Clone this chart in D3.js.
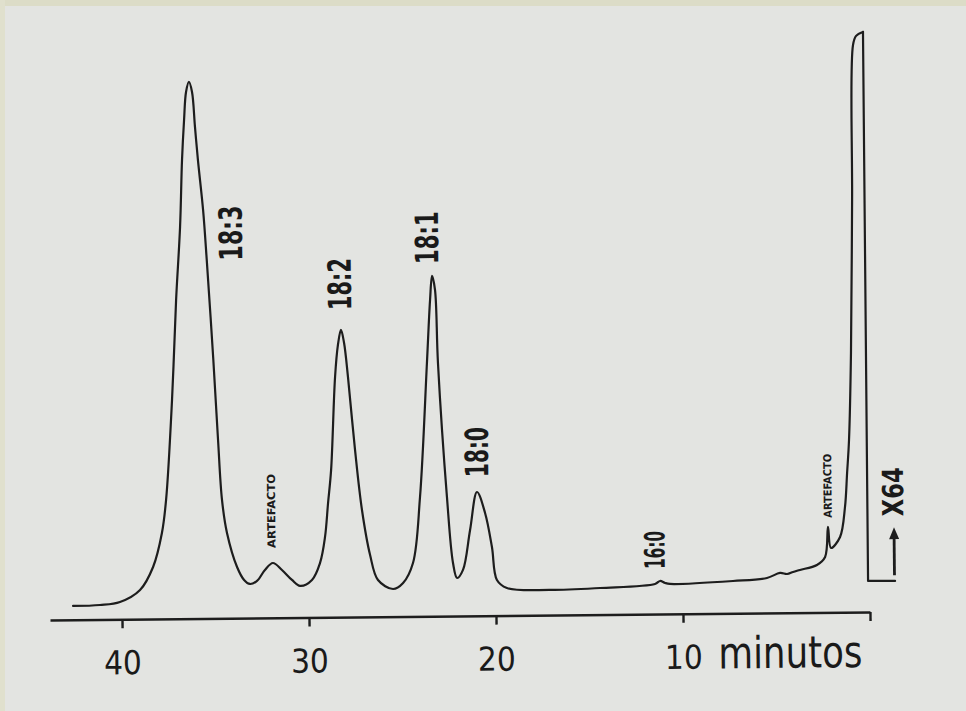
<!DOCTYPE html>
<html>
<head>
<meta charset="UTF-8"/>
<script src="https://d3js.org/d3.v7.min.js"></script>
<title>Cromatograma</title>
<style>
body{margin:0;background:#e3e4e1;}
svg{display:block;}
.trace{fill:none;stroke:#1d1d1d;stroke-width:2.2;stroke-linejoin:round;stroke-linecap:round;}
.axis path,.axis line{stroke:#1d1d1d;stroke-width:2.4;}
.lbl{font-family:'Liberation Sans Narrow','DejaVu Sans Condensed',sans-serif;fill:#1a1a1a;}
</style>
</head>
<body>
<svg id="chart" width="966" height="711"></svg>
<script>
'use strict';

// retention time (min) and detector response (relative units)
var tiempo = [42.61,41.17,40.10,39.02,38.31,37.82,37.58,37.21,36.94,36.69,36.55,36.42,36.30,36.14,35.98,35.84,35.70,35.45,35.28,34.98,
              34.77,34.59,34.34,33.82,33.45,33.14,32.76,32.33,31.90,31.42,30.89,30.46,29.82,29.38,29.10,28.92,28.74,28.48,28.31,28.14,
              27.98,27.79,27.45,27.11,26.70,26.29,25.49,24.95,24.41,24.00,23.56,23.36,23.24,23.09,22.97,22.56,22.27,22.06,21.74,21.34,
              20.95,20.53,20.18,19.93,19.40,17.10,14.42,11.48,11.21,10.94,10.68,7.31,5.49,4.79,4.41,4.09,3.72,2.81,2.37,2.20,
              2.05,1.56,1.28,1.15,1.03,0.88,0.74,0.61,0.44,0.07];
var senal  = [2.30,2.42,2.89,4.86,8.67,14.32,19.82,36.47,53.13,65.29,76.46,83.12,87.78,89.45,87.77,81.94,76.43,68.09,59.75,43.07,
              29.73,19.73,14.22,8.53,6.36,5.68,6.17,7.99,9.14,7.96,6.28,5.27,6.25,9.07,13.39,19.05,24.55,40.04,45.37,47.87,
              45.69,40.02,27.84,17.83,10.32,6.14,4.61,5.60,8.91,19.90,42.22,52.72,56.72,54.38,42.21,19.86,8.85,6.34,7.67,14.32,
              20.64,17.13,11.45,5.94,4.59,4.19,4.44,5.02,5.51,5.17,5.00,5.39,5.84,6.65,6.47,6.80,7.12,7.92,9.24,14.24,
              10.73,12.55,17.54,23.21,28.70,43.2,68.7,94.53,96.03,96.68];

// pen drop after the solvent peak and the x64 attenuation mark
var caidaT = [0.07, 0.085, -1.36];
var caidaS = [96.68, 5.18, 5.13];
var flechaT = [-1.33, -1.33];
var flechaS = [6.1, 14.1];

// peak labels
var picoTxt   = ['18:3', '18:2', '18:1', '18:0', '16:0'];
var picoT     = [33.97, 28.17, 23.49, 20.93, 11.46];
var picoS     = [64.2, 55.5, 63.1, 27.3, 10.7];
var picoLen   = [55, 52, 53, 50, 38];
var artefT    = [31.94, 2.18];
var artefS    = [17.8, 21.1];
var artefLen  = [74, 64];

var tickVals = [40, 30, 20, 10];

var svg = d3.select('#chart');
svg.append('rect').attr('width', 966).attr('height', 711).attr('fill', '#e3e4e1');
svg.append('rect').attr('width', 966).attr('height', 6).attr('fill', '#dcdcc7');
svg.append('rect').attr('width', 5).attr('height', 711).attr('fill', '#e0e0cd');

var sx = d3.scaleLinear().domain([43.85, 0]).range([50, 870]);
var sy = d3.scaleLinear().domain([0, 100]).range([620, 20]);

// the photographed sheet is turned slightly
var g = svg.append('g').attr('transform', 'rotate(-0.56,50,620)');

var xAxis = d3.axisBottom(sx)
    .tickValues(tickVals.concat([0]))
    .tickSize(9)
    .tickSizeOuter(0)
    .tickFormat(function(d){ return d === 0 ? '' : d; });

var ax = g.append('g').attr('class', 'axis').attr('transform', 'translate(0,620)').call(xAxis);
ax.selectAll('text')
    .attr('class', 'lbl')
    .attr('y', 55).attr('dy', 0)
    .style('font-size', '33px')
    .style('font-family', "'Liberation Sans Narrow','DejaVu Sans Condensed',sans-serif")
    .attr('fill', '#1a1a1a');

g.append('text').attr('class', 'lbl')
    .attr('x', 862).attr('y', 675)
    .attr('text-anchor', 'end')
    .attr('textLength', 144).attr('lengthAdjust', 'spacingAndGlyphs')
    .style('font-size', '44px')
    .text('minutos');

var pts = tiempo.map(function(t, i){ return [t, senal[i]]; });
var line = d3.line()
    .x(function(d){ return sx(d[0]); })
    .y(function(d){ return sy(d[1]); })
    .curve(d3.curveCatmullRom.alpha(0.5));

g.append('path').datum(pts).attr('class', 'trace').attr('d', line);

var drop = caidaT.map(function(t, i){ return [t, caidaS[i]]; });
g.append('path').datum(drop).attr('class', 'trace')
    .attr('d', d3.line().x(function(d){ return sx(d[0]); }).y(function(d){ return sy(d[1]); }));

// arrow + X64
var ar = flechaT.map(function(t, i){ return [sx(t), sy(flechaS[i])]; });
g.append('line').attr('x1', ar[0][0]).attr('y1', ar[0][1]).attr('x2', ar[1][0]).attr('y2', ar[1][1] + 6)
    .attr('stroke', '#1d1d1d').attr('stroke-width', 2.8);
g.append('path')
    .attr('d', 'M' + ar[1][0] + ',' + ar[1][1] + 'l-5,12l10,0z')
    .attr('fill', '#1d1d1d');
g.append('text').attr('class', 'lbl')
    .attr('transform', 'translate(' + sx(-1.30) + ',' + sy(20.0) + ') rotate(-90)')
    .attr('text-anchor', 'middle').attr('dominant-baseline', 'central')
    .attr('textLength', 49).attr('lengthAdjust', 'spacingAndGlyphs')
    .style('font-size', '29px').style('font-weight', 'bold')
    .text('X64');

picoTxt.forEach(function(txt, i){
    g.append('text').attr('class', 'lbl')
        .attr('transform', 'translate(' + sx(picoT[i]) + ',' + sy(picoS[i]) + ') rotate(-90)')
        .attr('text-anchor', 'middle').attr('dominant-baseline', 'central')
        .attr('textLength', picoLen[i]).attr('lengthAdjust', 'spacingAndGlyphs')
        .style('font-size', i === 4 ? '28px' : '32px').style('font-weight', 'bold')
        .text(txt);
});

artefT.forEach(function(t, i){
    g.append('text').attr('class', 'lbl')
        .attr('transform', 'translate(' + sx(t) + ',' + sy(artefS[i]) + ') rotate(-90)')
        .attr('text-anchor', 'middle').attr('dominant-baseline', 'central')
        .attr('textLength', artefLen[i]).attr('lengthAdjust', 'spacingAndGlyphs')
        .style('font-size', '11px').style('font-weight', 'bold')
        .text('ARTEFACTO');
});
</script>
</body>
</html>
